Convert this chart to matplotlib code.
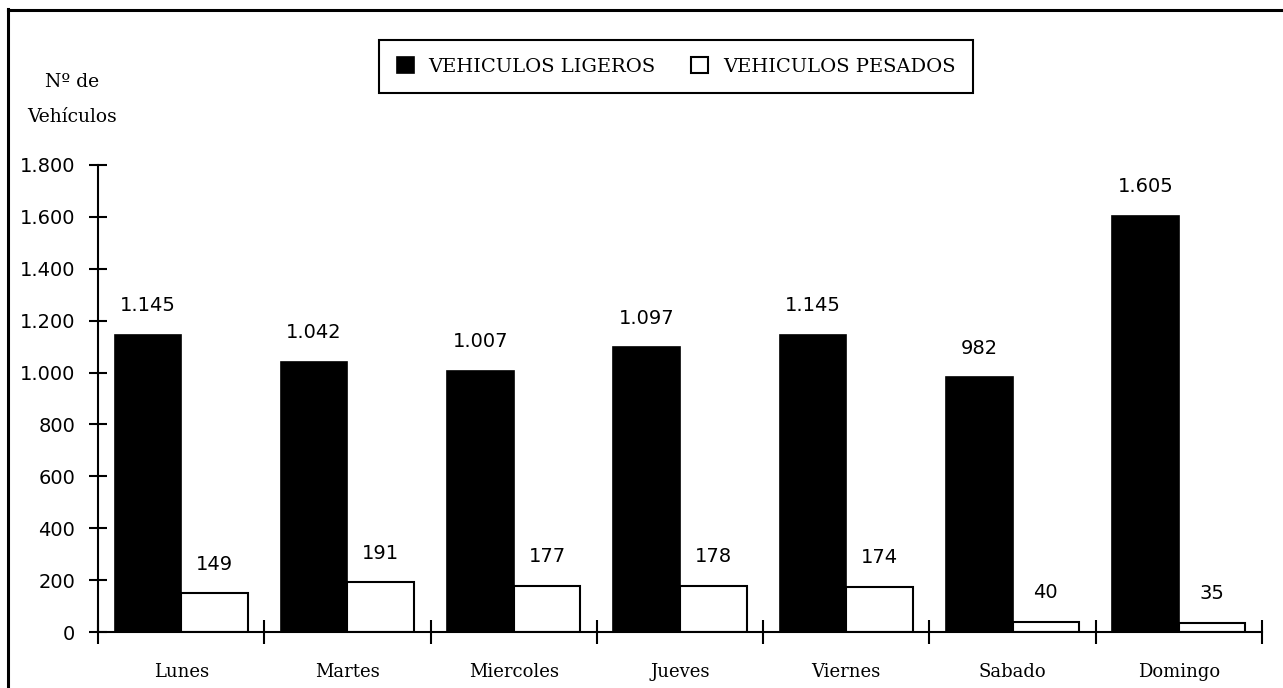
import matplotlib
matplotlib.use("Agg")
import matplotlib.pyplot as plt
from matplotlib.patches import Patch
from matplotlib.lines import Line2D

days = ["Lunes", "Martes", "Miercoles", "Jueves", "Viernes", "Sabado", "Domingo"]
ligeros = [1145, 1042, 1007, 1097, 1145, 982, 1605]
pesados = [149, 191, 177, 178, 174, 40, 35]
yticks = [0, 200, 400, 600, 800, 1000, 1200, 1400, 1600, 1800]
legend_labels = ["VEHICULOS LIGEROS", "VEHICULOS PESADOS"]
ylabel_lines = ["Nº de", "Vehículos"]

def fmt(v):
    return f"{v:,}".replace(",", ".")

W, H = 1283, 688
fig = plt.figure(figsize=(W / 100, H / 100), dpi=100)
fig.patch.set_facecolor("white")

# frame lines (left and top)
fig.add_artist(Line2D([7.5 / W, 7.5 / W], [0, 1 - 9 / H], transform=fig.transFigure, color="black", lw=2.2))
fig.add_artist(Line2D([7.5 / W, 1], [1 - 9.5 / H, 1 - 9.5 / H], transform=fig.transFigure, color="black", lw=2.2))

x0, x1 = 98, 1262
y0, y1 = 632, 165
ax = fig.add_axes([x0 / W, 1 - y0 / H, (x1 - x0) / W, (y0 - y1) / H])
ax.set_xlim(-0.5, len(days) - 0.5)
ax.set_ylim(0, 1800)

bw = 0.4
xs = list(range(len(days)))
ax.bar([x - bw / 2 for x in xs], ligeros, width=bw, color="black", edgecolor="black", linewidth=1.2, zorder=2)
ax.bar([x + bw / 2 for x in xs], pesados, width=bw, color="white", edgecolor="black", linewidth=1.5, zorder=2)

for x, v in zip(xs, ligeros):
    ax.annotate(fmt(v), (x - bw / 2, v), xytext=(0, 17), textcoords="offset points",
                ha="center", va="baseline", fontsize=14, family="DejaVu Sans")
for x, v in zip(xs, pesados):
    ax.annotate(fmt(v), (x + bw / 2, v), xytext=(0, 17), textcoords="offset points",
                ha="center", va="baseline", fontsize=14, family="DejaVu Sans")

for s in ["top", "right"]:
    ax.spines[s].set_visible(False)
for s in ["left", "bottom"]:
    ax.spines[s].set_linewidth(1.5)

ax.set_yticks(yticks)
ax.set_yticklabels([fmt(v) for v in yticks], fontsize=14, family="DejaVu Sans")
ax.tick_params(axis="y", direction="inout", length=13, width=1.5, pad=10)

ax.set_xticks([x - 0.5 for x in xs] + [len(days) - 0.5])
ax.set_xticklabels([])
ax.tick_params(axis="x", which="major", direction="inout", length=17, width=1.5)
ax.set_xticks(xs, minor=True)
ax.set_xticklabels(days, minor=True, fontsize=13, family="DejaVu Serif")
ax.tick_params(axis="x", which="minor", length=0, pad=22)

fig.text(72 / W, 1 - 82 / H, ylabel_lines[0], ha="center", va="center", fontsize=13.5, family="DejaVu Serif")
fig.text(72 / W, 1 - 117 / H, ylabel_lines[1], ha="center", va="center", fontsize=13.5, family="DejaVu Serif")

handles = [Patch(facecolor="black", edgecolor="black", linewidth=1.2),
           Patch(facecolor="white", edgecolor="black", linewidth=1.5)]
leg = fig.legend(handles, legend_labels, loc="center", bbox_to_anchor=(676 / W, 1 - 66.5 / H),
                 ncol=2, frameon=True, fancybox=False, edgecolor="black", framealpha=1,
                 prop={"family": "DejaVu Serif", "size": 14}, handlelength=0.87, handleheight=0.87,
                 handletextpad=0.75, columnspacing=1.85, borderpad=0.9, borderaxespad=0)
leg.get_frame().set_linewidth(1.5)

fig.savefig("out.png", dpi=100)
